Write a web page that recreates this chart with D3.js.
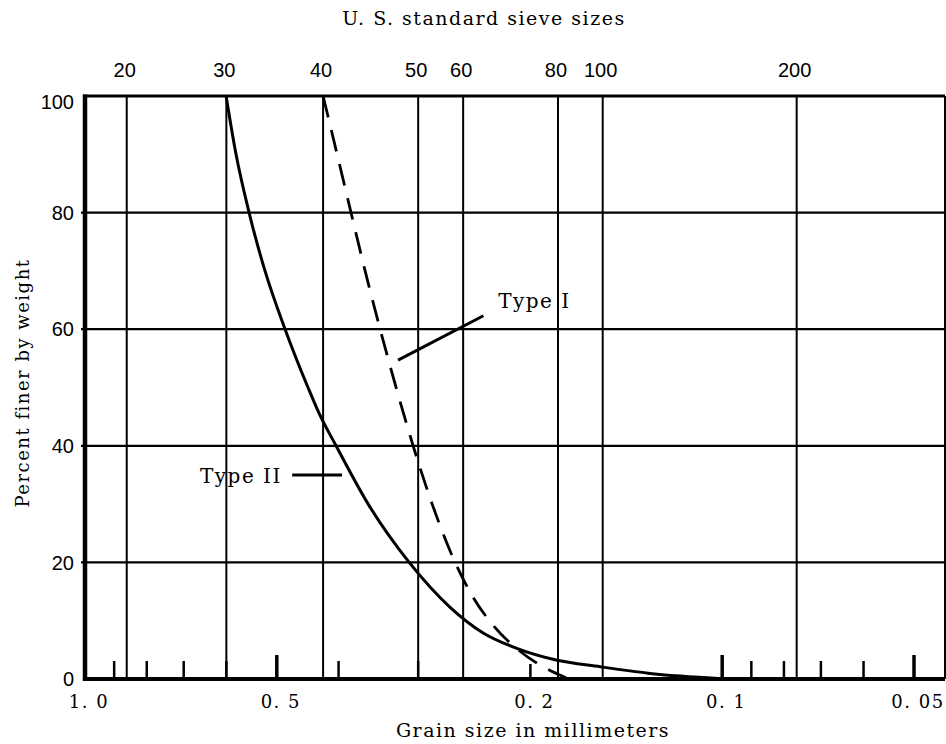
<!DOCTYPE html>
<html><head><meta charset="utf-8">
<script src="https://cdn.jsdelivr.net/npm/d3@7"></script>
<style>body{margin:0;background:#fff}</style>
</head><body><svg id="c" width="946" height="744"></svg>
<script>
// ---- data ----
const sieveNumbers = ["20","30","40","50","60","80","100","200"];
const sieveOpenings = [0.86, 0.60, 0.423, 0.30, 0.255, 0.181, 0.154, 0.0764]; // mm
const grainTicks = [1.0, 0.5, 0.2, 0.1, 0.05];
const grainTickLabels = ["1. 0", "0. 5", "0. 2", "0. 1", "0. 05"];
const minorTicks = [0.9, 0.8, 0.7, 0.6, 0.5, 0.4, 0.3, 0.2, 0.1, 0.09, 0.08, 0.07, 0.06, 0.05];
const majorMinor = [0.5, 0.1, 0.05];
const percentTicks = [0, 20, 40, 60, 80, 100];
// Type I (dashed): [grain size mm, percent finer]
const typeI = [[0.4230,100],[0.4124,95],[0.4021,90],[0.3824,80],[0.3634,70],[0.3442,60],[0.3249,50],
  [0.3055,40],[0.2852,30],[0.2625,20],[0.2459,14],[0.2279,9],[0.2106,5.3],[0.1931,2.4],[0.1758,0.2]];
// Type II (solid)
const typeII = [[0.6006,100],[0.5794,90],[0.5527,80],[0.5218,70],[0.4853,60],[0.4467,50],[0.4293,45.6],
  [0.4036,40],[0.3594,30],[0.3099,20],[0.2673,12.3],[0.2372,7.9],[0.2106,5.3],
  [0.1829,3.3],[0.1554,2.1],[0.1307,1.0],[0.1163,0.5],[0.0989,0]];
// annotations (data units)
const typeILeader = [[0.3226,54.7],[0.237,62.3]];
const typeILabel = {text:"Type I", at:[0.2247,63.6]};
const typeIILeader = [[0.473,35],[0.395,35]];
const typeIILabel = {text:"Type II", at:[0.660,33.6]};

// ---- layout ----
const svg = d3.select("#c");
const x = d3.scaleLog().domain([1.0, 0.05]).range([85, 914]);
const y = d3.scaleLinear().domain([0, 100]).range([679, 96]);
const right = 945;
const serif = "'DejaVu Serif', serif";
const sans = "'Liberation Sans', Arial, sans-serif";

// horizontal grid lines
svg.append("g").selectAll("line").data(percentTicks.filter(d => d > 0 && d < 100)).join("line")
  .attr("x1", x(1.0) - 4).attr("x2", right).attr("y1", d => y(d)).attr("y2", d => y(d))
  .attr("stroke", "#000").attr("stroke-width", 2.2);

// vertical sieve lines
svg.append("g").selectAll("line").data(sieveOpenings).join("line")
  .attr("x1", d => x(d)).attr("x2", d => x(d)).attr("y1", y(100)).attr("y2", y(0))
  .attr("stroke", "#000").attr("stroke-width", 2);

// minor ticks on the bottom
svg.append("g").selectAll("line").data(minorTicks).join("line")
  .attr("x1", d => x(d)).attr("x2", d => x(d))
  .attr("y1", y(0)).attr("y2", d => y(0) - (majorMinor.includes(d) ? 24 : (d === 0.2 ? 15 : 18)))
  .attr("stroke", "#000").attr("stroke-width", d => majorMinor.includes(d) ? 3.5 : 2.5);

// frame
svg.append("line").attr("x1", x(1.0)).attr("x2", x(1.0)).attr("y1", y(100) - 1.5).attr("y2", y(0) + 2)
  .attr("stroke", "#000").attr("stroke-width", 4.5);
svg.append("line").attr("x1", x(1.0) - 2).attr("x2", right).attr("y1", y(0)).attr("y2", y(0))
  .attr("stroke", "#000").attr("stroke-width", 4);
svg.append("line").attr("x1", x(1.0) - 2).attr("x2", right).attr("y1", y(100)).attr("y2", y(100))
  .attr("stroke", "#000").attr("stroke-width", 3);
svg.append("line").attr("x1", right).attr("x2", right).attr("y1", y(100)).attr("y2", y(0))
  .attr("stroke", "#000").attr("stroke-width", 2);

// curves
const line = d3.line().x(d => x(d[0])).y(d => y(d[1])).curve(d3.curveMonotoneX);
svg.append("path").datum(typeII).attr("d", line).attr("fill", "none")
  .attr("stroke", "#000").attr("stroke-width", 3);
svg.append("path").datum(typeI).attr("d", line).attr("fill", "none")
  .attr("stroke", "#000").attr("stroke-width", 2.8).attr("stroke-dasharray", "22,13");

// leaders
const straight = d3.line().x(d => x(d[0])).y(d => y(d[1]));
svg.append("path").datum(typeILeader).attr("d", straight).attr("stroke", "#000").attr("stroke-width", 3).attr("fill", "none");
svg.append("path").datum(typeIILeader).attr("d", straight).attr("stroke", "#000").attr("stroke-width", 3).attr("fill", "none");
[typeILabel, typeIILabel].forEach(l => {
  svg.append("text").attr("x", x(l.at[0])).attr("y", y(l.at[1]))
    .attr("font-family", serif).attr("font-size", 20).attr("letter-spacing", 1.5)
    .text(l.text);
});

// y tick labels
svg.append("g").selectAll("text").data(percentTicks).join("text")
  .attr("x", 74).attr("y", d => y(d) + (d === 100 ? 6 : 0)).attr("dy", "0.36em")
  .attr("text-anchor", "end").attr("font-family", sans).attr("font-size", 20)
  .text(d => d);

// top sieve labels
svg.append("g").selectAll("text").data(sieveNumbers).join("text")
  .attr("x", (d, i) => x(sieveOpenings[i]) - 2).attr("y", 77)
  .attr("text-anchor", "middle").attr("font-family", sans).attr("font-size", 20)
  .text(d => d);

// bottom grain-size labels
svg.append("g").selectAll("text").data(grainTicks).join("text")
  .attr("x", d => x(d) + 4).attr("y", 708)
  .attr("text-anchor", "middle").attr("font-family", serif).attr("font-size", 18).attr("letter-spacing", 1.5)
  .text((d, i) => grainTickLabels[i]);

// titles
svg.append("text").attr("x", 484).attr("y", 25).attr("text-anchor", "middle")
  .attr("font-family", serif).attr("font-size", 19).attr("letter-spacing", 1.5)
  .text("U. S. standard sieve sizes");
svg.append("text").attr("x", 533).attr("y", 737).attr("text-anchor", "middle")
  .attr("font-family", serif).attr("font-size", 19).attr("letter-spacing", 1.5)
  .text("Grain size in millimeters");
svg.append("text").attr("transform", "translate(29,383) rotate(-90)").attr("text-anchor", "middle")
  .attr("font-family", serif).attr("font-size", 18).attr("letter-spacing", 1.5)
  .text("Percent finer by weight");
</script></body></html>
